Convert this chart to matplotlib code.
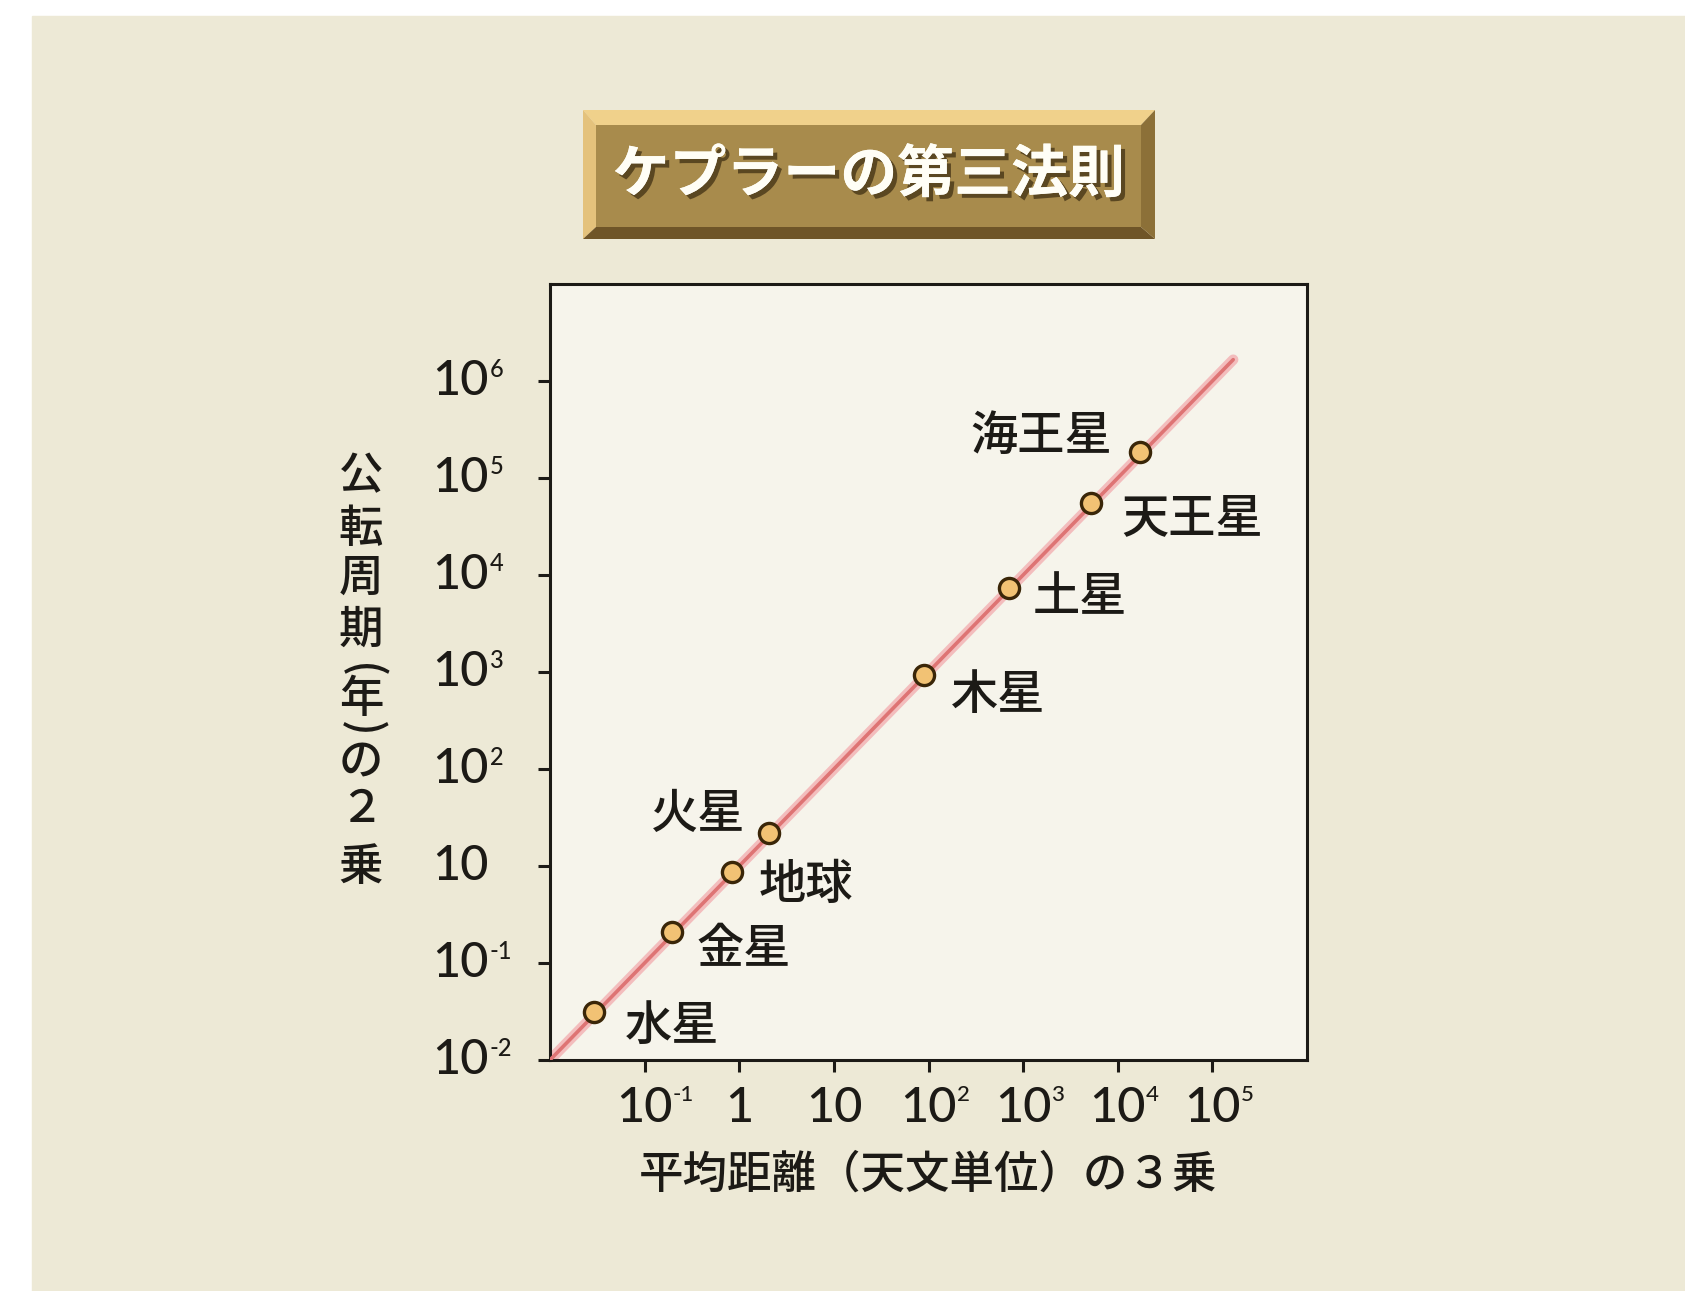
import matplotlib
matplotlib.use("Agg")
import matplotlib.pyplot as plt
import matplotlib.patheffects as pe
from matplotlib.patches import Polygon, Rectangle

# planets: cube of mean distance (AU^3) vs square of period (yr^2)
planets = ["水星", "金星", "地球", "火星", "木星", "土星", "天王星", "海王星"]
dist_cubed = [0.0295, 0.194, 0.836, 2.06, 89, 703, 5160, 17000]
period_sq = [0.031, 0.209, 0.867, 2.19, 93, 735, 5520, 18500]

# reference line a^3 = T^2
line_x = [1e-2, 1.66e5]
line_y = [1e-2, 1.66e5]

# tick positions and their printed labels (base + superscript)
xtick_vals = [1e-1, 1, 1e1, 1e2, 1e3, 1e4, 1e5]
xtick_base = ["10", "1", "10", "10", "10", "10", "10"]
xtick_sup = ["-1", "", "", "2", "3", "4", "5"]
ytick_vals = [1e-2, 1e-1, 1, 1e1, 1e2, 1e3, 1e4, 1e5]
ytick_base = ["10"] * 8
ytick_sup = ["-2", "-1", "", "2", "3", "4", "5", "6"]

title = "ケプラーの第三法則"
xlabel = "平均距離（天文単位）の３乗"
ylabel_chars = ["公", "転", "周", "期", "(", "年", ")", "の", "２", "乗"]

# label placement per planet: alignment and offset in points
label_ha = ["left", "left", "left", "right", "left", "left", "left", "right"]
label_off = [(22, -10), (18, -13), (19.5, -10), (-17, 13.5),
             (19.5, -14.5), (17, -7), (22, -11), (-19.5, 11.5)]

W, H = 1685, 1291
BG = "#EDE9D6"
JP = ["Noto Sans CJK JP", "DejaVu Sans"]
NUM = ["Lato", "DejaVu Sans"]
INK = "#1C1A16"


def fx(px):
    return px / W


def fy(py):
    return 1 - py / H


fig = plt.figure(figsize=(W / 100, H / 100), dpi=100, facecolor="white")
fig.patches.append(Rectangle((fx(32), 0), 1 - fx(32), fy(16),
                             transform=fig.transFigure, color=BG, zorder=-10))

# title plate with bevelled edges
x0, x1, y0, y1 = 583, 1155, 110, 239
i0, i1, j0, j1 = 596, 1141, 125, 227
bevels = [
    ([(x0, y0), (x1, y0), (i1, j0), (i0, j0)], "#F0D18B"),
    ([(x0, y0), (i0, j0), (i0, j1), (x0, y1)], "#E4C27C"),
    ([(x0, y1), (i0, j1), (i1, j1), (x1, y1)], "#6F5528"),
    ([(x1, y0), (x1, y1), (i1, j1), (i1, j0)], "#8C7038"),
    ([(i0, j0), (i1, j0), (i1, j1), (i0, j1)], "#A88B4C"),
]
for pts, col in bevels:
    fig.patches.append(Polygon([(fx(a), fy(b)) for a, b in pts], closed=True,
                               transform=fig.transFigure, color=col, lw=0))
fig.text(fx(869), fy(175), title, ha="center", va="center", fontsize=41,
         fontweight="bold", family=JP, color="#FFFEF6",
         path_effects=[pe.withSimplePatchShadow(offset=(3, -3), shadow_rgbFace="#3A2A10", alpha=0.7),
                       pe.Normal()])

ax = fig.add_axes([fx(550), fy(1060), fx(1307) - fx(550), fy(284) - fy(1060)])
ax.set_facecolor("#F6F4EB")
ax.set_xscale("log")
ax.set_yscale("log")
ax.set_xlim(1e-2, 1e6)
ax.set_ylim(1e-2, 1e6)

ax.plot(line_x, line_y, color="#F3BDBD", lw=7.5, solid_capstyle="round", zorder=2)
ax.plot(line_x, line_y, color="#DE7474", lw=2.6, solid_capstyle="round", zorder=3)
ax.plot(dist_cubed, period_sq, "o", ms=14.5, mfc="#F2C274", mec="#3A2608", mew=2.4, zorder=4)

for name, x, y, ha, off in zip(planets, dist_cubed, period_sq, label_ha, label_off):
    ax.annotate(name, (x, y), xytext=off, textcoords="offset points", ha=ha,
                va="center", fontsize=34, family=JP, fontweight="medium", color=INK)

for s in ax.spines.values():
    s.set_linewidth(2.2)
    s.set_color(INK)
ax.set_xticks(xtick_vals)
ax.set_yticks(ytick_vals)
ax.minorticks_off()
ax.tick_params(direction="out", length=8.6, width=2.2, color=INK,
               labelbottom=False, labelleft=False)

# tick labels drawn as "10" plus a small raised exponent
for v, b, s in zip(xtick_vals, xtick_base, xtick_sup):
    t = ax.text(v, -0.034, b, transform=ax.get_xaxis_transform(), ha="center",
                va="top", fontsize=35, family=NUM, fontweight="medium", color=INK)
    if s:
        ax.annotate(s, (1, 1), xycoords=t, xytext=(0, 1), textcoords="offset points",
                    ha="left", va="top", fontsize=16, family=NUM, fontweight="medium", color=INK)
for v, b, s in zip(ytick_vals, ytick_base, ytick_sup):
    t = ax.text(-0.156, v, b, transform=ax.get_yaxis_transform(), ha="left",
                va="center", fontsize=35, family=NUM, fontweight="medium", color=INK)
    if s:
        ax.annotate(s, (1, 1), xycoords=t, xytext=(1, 1), textcoords="offset points",
                    ha="left", va="top", fontsize=17, family=NUM, fontweight="medium", color=INK)

ax.text(0.5, -0.148, xlabel, transform=ax.transAxes, ha="center", va="center",
        fontsize=32, family=JP, fontweight="medium", color=INK)

# vertical axis title, one glyph per row; brackets turned to read top-down
ylabel_rows = [477, 529, 578, 630, 671, 699, 729, 763, 810, 867]
for ch, row in zip(ylabel_chars, ylabel_rows):
    rot = -90 if ch in "()" else 0
    fig.text(fx(361), fy(row), ch, ha="center", va="center", fontsize=32,
             family=JP, fontweight="medium", color=INK, rotation=rot)

fig.savefig("out.png", dpi=100, facecolor=fig.get_facecolor())
